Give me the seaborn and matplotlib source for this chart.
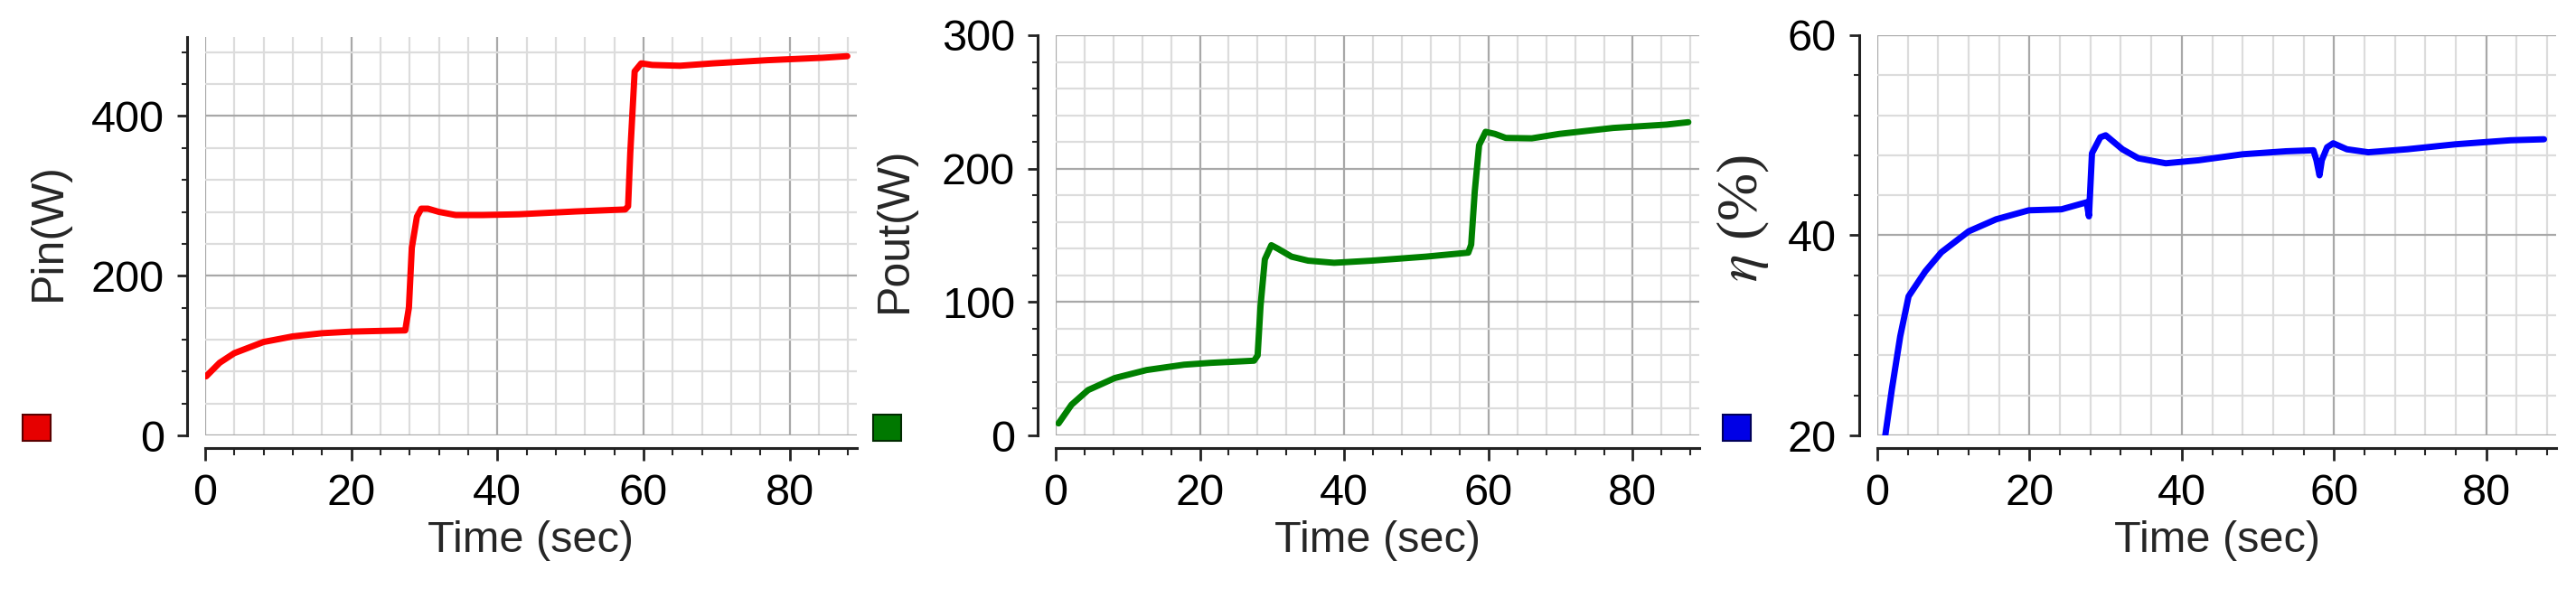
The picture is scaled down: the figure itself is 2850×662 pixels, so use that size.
import pandas as pd
import seaborn as sns
import matplotlib.pyplot as plt
import matplotlib.patches as mpatches
from matplotlib.ticker import MultipleLocator

# Pin (W) vs time
t_pin = [0.15, 2, 4, 8, 12, 16, 20, 24.5, 27.4, 27.9, 28.3, 29.0, 29.6, 30.5, 32, 34.3, 38, 43, 50.7,
         57.5, 57.9, 58.2, 58.8, 59.7, 61.2, 65, 69.5, 77, 84.5, 87.9]
pin = [74, 91, 103, 117, 124, 128, 130, 131, 131.5, 160, 235, 274, 284, 284, 280, 276, 276, 277, 280.5,
       283, 287, 354, 456, 466, 464, 463, 466, 470, 473, 475]

# Pout (W) vs time
t_pout = [0.4, 2.2, 4.5, 8.2, 12.6, 17.8, 21.5, 27.5, 28.0, 28.4, 29.0, 29.9, 30.8, 32.7, 35, 38.6, 43.8,
          51.3, 57.2, 57.6, 58.1, 58.7, 59.6, 60.9, 62.4, 66, 69.8, 77.3, 84.7, 87.7]
pout = [9, 23, 34, 43, 49, 53, 54.4, 56, 60, 97, 132, 142.6, 140, 134, 131, 129.4, 131,
        134, 137, 143, 183, 217.6, 227.6, 226, 223, 222.7, 226, 230.5, 233, 234.8]

# efficiency (%) vs time
t_eta = [1.0, 1.9, 3.0, 4.1, 6.3, 8.4, 12, 15.6, 19.9, 24.2, 27.5, 27.8, 28.2, 29.3, 30, 32.2, 34.3,
         37.9, 42.2, 48, 53.7, 57.3, 57.7, 58.1, 58.4, 59.1, 59.9, 61.7, 64.5, 69.6, 76, 83.2, 87.6]
eta = [19.8, 24.6, 29.9, 33.9, 36.4, 38.3, 40.4, 41.6, 42.5, 42.6, 43.3, 41.9, 48.2, 49.8, 50, 48.6, 47.7,
       47.2, 47.5, 48.1, 48.4, 48.5, 47.5, 46.0, 47.5, 48.8, 49.2, 48.6, 48.3, 48.6, 49.1, 49.5, 49.6]

sns.set_style('white')
plt.rcParams['font.family'] = ['Liberation Sans', 'DejaVu Sans']
plt.rcParams['mathtext.fontset'] = 'stix'

fig = plt.figure(figsize=(28.5, 6.62), dpi=100)

panels = [
    dict(t=t_pin, y=pin, box=(0.0796, 0.2719, 0.2530, 0.6662), ylim=(0, 499), major=200, minor=40,
         color='#ff0000', label='Pin(W)', lx=-0.208, ly=0.512, sq=25, fill='#e60000', edge='#5a0000',
         lfont=dict(fontsize=36)),
    dict(t=t_pout, y=pout, box=(0.4098, 0.2719, 0.2498, 0.6692), ylim=(0, 300), major=100, minor=20,
         color='#008000', label='Pout(W)', lx=-0.218, ly=0.515, sq=966, fill='#007800', edge='#002a00',
         lfont=dict(fontsize=36)),
    dict(t=t_eta, y=eta, box=(0.7288, 0.2719, 0.2635, 0.6692), ylim=(20, 60), major=20, minor=4,
         color='#0000ff', label=r'$\eta$ (%)', lx=-0.156, ly=0.542, sq=1906, fill='#0000e6', edge='#00005a',
         lfont=dict(fontsize=46, fontfamily='Liberation Serif')),
]

for p in panels:
    ax = fig.add_axes(p['box'])
    df = pd.DataFrame({'Time': p['t'], 'val': p['y']})
    sns.lineplot(data=df, x='Time', y='val', ax=ax, color=p['color'], linewidth=5)

    ax.set_xlim(0, 89.2)
    ax.set_ylim(*p['ylim'])
    ax.xaxis.set_major_locator(MultipleLocator(20))
    ax.xaxis.set_minor_locator(MultipleLocator(4))
    ax.yaxis.set_major_locator(MultipleLocator(p['major']))
    ax.yaxis.set_minor_locator(MultipleLocator(p['minor']))

    ax.grid(which='major', color='#a8a8a8', linewidth=1.6)
    ax.grid(which='minor', color='#dcdcdc', linewidth=1.6)
    ax.set_axisbelow(True)

    for s in ['top', 'right']:
        ax.spines[s].set_visible(False)
    ax.spines['left'].set_position(('outward', 14.4))
    ax.spines['bottom'].set_position(('outward', 10))
    for s in ['left', 'bottom']:
        ax.spines[s].set_color('#222222')
        ax.spines[s].set_linewidth(2.2)

    ax.tick_params(axis='both', which='major', direction='out', colors='#222222', width=2,
                   labelsize=35, labelcolor='black')
    ax.tick_params(axis='y', which='major', length=8, pad=10, left=True)
    ax.tick_params(axis='y', which='minor', length=4, width=1.5, left=True)
    ax.tick_params(axis='x', which='major', length=10, pad=10, bottom=True)
    ax.tick_params(axis='x', which='minor', length=6, width=1.5, bottom=True)

    ax.set_xlabel('Time (sec)', fontsize=35, labelpad=5)
    ax.set_ylabel(p['label'], **p['lfont'])
    ax.yaxis.set_label_coords(p['lx'], p['ly'])

    fig.add_artist(mpatches.Rectangle((p['sq'] / 2850, 1 - 488 / 662), 31 / 2850, 29 / 662,
                                      transform=fig.transFigure, facecolor=p['fill'],
                                      edgecolor=p['edge'], linewidth=1.5))

fig.savefig('out.png', dpi=100)
